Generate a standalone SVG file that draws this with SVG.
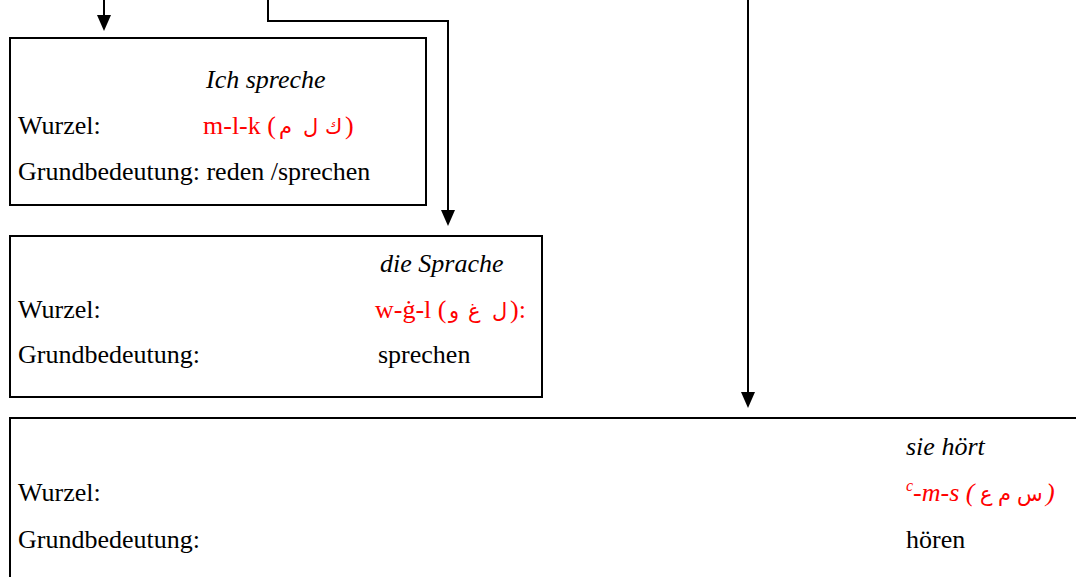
<svg xmlns="http://www.w3.org/2000/svg" width="1076" height="577" viewBox="0 0 1076 577">
<style>
.box{fill:#fff;stroke:#000;stroke-width:2}
.t{font-family:"Liberation Serif","Times New Roman",serif;font-size:26px;fill:#000}
.i{font-style:italic}
.r{fill:#f00}
.ar{font-family:"DejaVu Sans","Noto Sans",sans-serif;font-size:21px;fill:#f00}
.ln{fill:none;stroke:#000;stroke-width:2}
</style>
<rect width="1076" height="577" fill="#fff"/>
<g id="connectors">
<line class="ln" x1="104" y1="0" x2="104" y2="16"/>
<path d="M97,15 L111,15 L104,31 Z" fill="#000"/>
<polyline class="ln" points="268,0 268,21 448,21 448,211"/>
<path d="M441,210 L455,210 L448,226 Z" fill="#000"/>
<line class="ln" x1="748" y1="0" x2="748" y2="393"/>
<path d="M741,392 L755,392 L748,408 Z" fill="#000"/>
</g>
<g id="node1">
<rect class="box" x="10" y="38" width="416" height="167"/>
<text class="t i" x="206" y="88">Ich spreche</text>
<text class="t" x="18" y="134">Wurzel:</text>
<text class="t r" x="203" y="134">m-l-k (</text>
<text class="ar" x="279" y="134">م</text>
<text class="ar" x="303" y="134">ل</text>
<text class="ar" x="325" y="134">ك</text>
<text class="t r" x="345" y="134">)</text>
<text class="t" x="18" y="180">Grundbedeutung: reden /sprechen</text>
</g>
<g id="node2">
<rect class="box" x="10" y="236" width="532" height="161"/>
<text class="t i" x="380" y="272">die Sprache</text>
<text class="t" x="18" y="318">Wurzel:</text>
<text class="t r" x="375" y="318">w-ġ-l (</text>
<text class="ar" x="449" y="318">و</text>
<text class="ar" x="468" y="318">غ</text>
<text class="ar" x="492" y="318">ل</text>
<text class="t r" x="510" y="318">):</text>
<text class="t" x="18" y="363">Grundbedeutung:</text>
<text class="t" x="378" y="363">sprechen</text>
</g>
<g id="node3">
<rect class="box" x="10" y="418" width="1080" height="200"/>
<text class="t i" x="906" y="455">sie hört</text>
<text class="t" x="18" y="501">Wurzel:</text>
<text class="t i r" x="906" y="501"><tspan font-size="16" dy="-10">c</tspan><tspan dy="10">-m-s (</tspan></text>
<text class="ar" x="980" y="501">ع</text>
<text class="ar" x="998" y="501">م</text>
<text class="ar" x="1017" y="501">س</text>
<text class="t i r" x="1046" y="501">)</text>
<text class="t" x="18" y="548">Grundbedeutung:</text>
<text class="t" x="906" y="548">hören</text>
</g>
</svg>
